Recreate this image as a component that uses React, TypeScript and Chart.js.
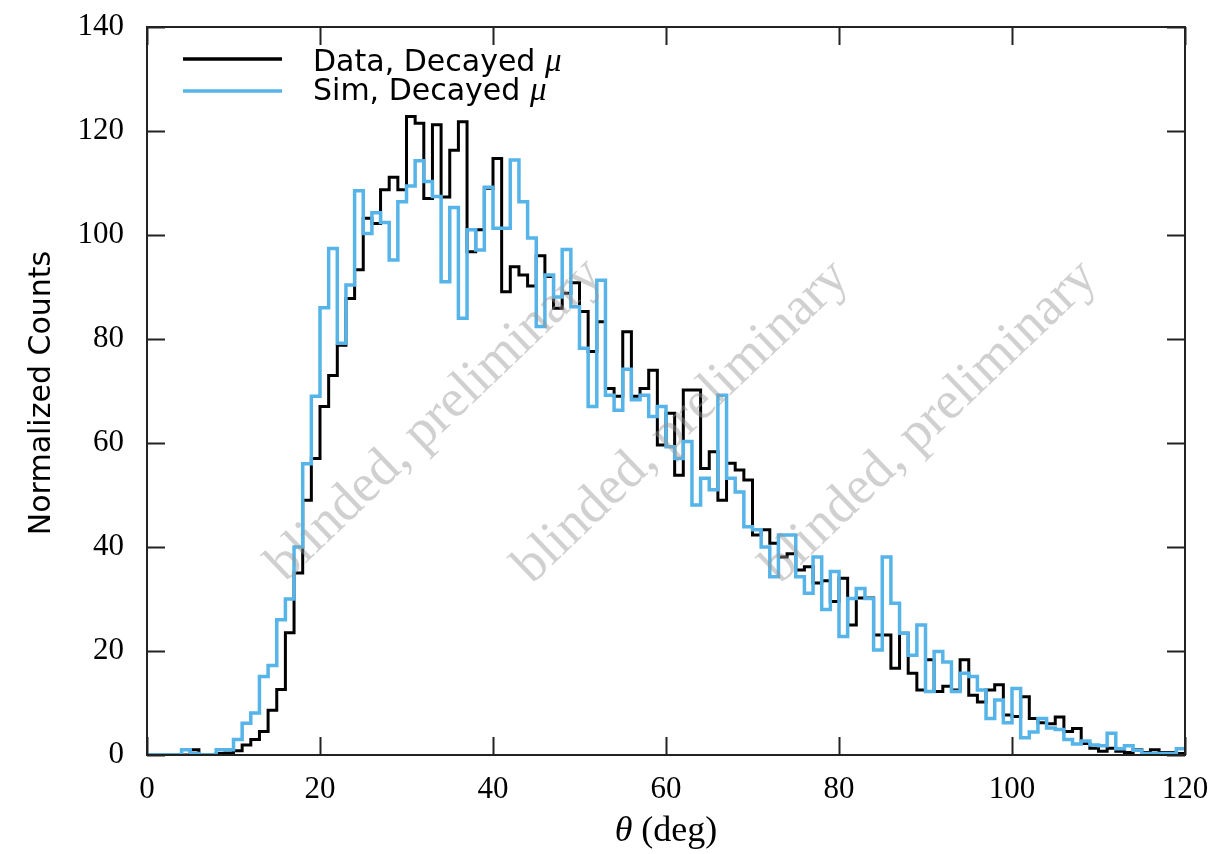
import React, { useEffect, useRef } from "react";
import { Chart, registerables } from "chart.js";

Chart.register(...registerables);

// Histogram binning: 120 bins of 1 degree starting at 0
const binLow = 0;
const binWidth = 1;

// Normalized counts per bin, data sample
const dataCounts = [
  0, 0, 0, 0, 0, 1.0, 0, 0, 0.3, 0.4,
  0.8, 1.9, 3.0, 4.5, 8.6, 12.6, 23.5, 35, 49, 57,
  67, 73, 78.8, 87.8, 93.3, 103.2, 102.2, 108.7, 111.1, 108.7,
  122.8, 121.5, 107, 121.2, 107.3, 116.3, 121.8, 96.8, 101, 109,
  114.7, 89.1, 93.9, 92.3, 90.2, 96, 92, 85.9, 88.8, 90.8,
  85.3, 77.6, 83.3, 70.5, 69, 81.4, 69, 70.5, 74, 59.6,
  65.7, 53.8, 70.2, 70.2, 55.1, 58.3, 49, 56.1, 54.8, 52.9,
  42.3, 43.3, 40.7, 38.1, 38.7, 35.6, 36.2, 33.1, 33.5, 29.5,
  34, 25, 30.2, 30.2, 23.1, 23.1, 16.7, 23.4, 15.7, 12.5,
  18.3, 12.2, 13.2, 12.5, 18.3, 11.5, 10.2, 12.5, 13.5, 7.7,
  7.4, 11.2, 7, 6.2, 6, 7.3, 4.5, 5.1, 2.2, 1.3,
  0.7, 1.3, 0.7, 0.5, 1, 0.5, 1, 0.5, 0.5, 0.3,
];

// Normalized counts per bin, simulation sample
const simCounts = [
  0, 0, 0, 0, 1.0, 0.3, 0, 0, 1.0, 1.0,
  3.0, 6.1, 8.1, 15.1, 17.2, 26, 30, 40, 56, 69,
  86, 97.4, 79.2, 90.4, 108.5, 100.3, 104.3, 102.4, 95.2, 106.4,
  109.4, 114.3, 110.3, 107.4, 91, 105.3, 84, 101, 97.1, 109.2,
  101.3, 101.3, 114.4, 106.4, 99.4, 82.4, 92.3, 88.1, 97.2, 86.2,
  78.2, 67, 91.3, 69.2, 66.3, 74.2, 68.3, 69.2, 65.1, 67,
  59.3, 57, 60.3, 48.1, 53.2, 51, 69.2, 53.2, 50.6, 43.9,
  43.3, 40, 34.3, 42.3, 42.3, 34.3, 31.1, 38.1, 28, 35.3,
  22.8, 30.1, 32, 30.1, 20.2, 38.1, 29.2, 23.4, 19.2, 25,
  12.2, 19.9, 17.9, 12.2, 15.7, 15.1, 12.5, 7, 10.6, 6.2,
  12.8, 3.3, 4.4, 7, 5.2, 4.9, 3, 2.1, 2.7, 1.9,
  1.8, 4.2, 1.2, 1.8, 0.9, 0.3, 0.3, 0.3, 0.3, 1.2,
];

const xTickValues = [0, 20, 40, 60, 80, 100, 120];
const yTickValues = [0, 20, 40, 60, 80, 100, 120, 140];

const seriesNames = ["Data, Decayed ", "Sim, Decayed "];
const seriesColors = ["#000000", "#56B4E9"];
const xTitle = ["θ", " (deg)"];
const yTitle = "Normalized Counts";
const watermarkText = "blinded, preliminary";
// watermark centres in data coordinates (deg, counts)
const watermarkCenters = [
  [33.3, 64.4],
  [61.8, 64],
  [90.5, 64],
];

function toSteps(counts: number[]) {
  const pts = counts.map((v, i) => ({ x: binLow + i * binWidth, y: v }));
  pts.push({ x: binLow + counts.length * binWidth, y: counts[counts.length - 1] });
  return pts;
}

const SERIF = "'Liberation Serif', 'DejaVu Serif', serif";
const SANS = "'DejaVu Sans', 'Noto Sans', sans-serif";

const decorPlugin = {
  id: "decor",
  afterDatasetsDraw(chart: any) {
    const { ctx } = chart;
    const xs = chart.scales.x;
    const ys = chart.scales.y;
    const ca = chart.chartArea;
    ctx.save();
    ctx.beginPath();
    ctx.rect(ca.left, ca.top, ca.right - ca.left, ca.bottom - ca.top);
    ctx.clip();
    ctx.font = `54px ${SERIF}`;
    ctx.fillStyle = "rgba(150,150,150,0.45)";
    ctx.textAlign = "center";
    ctx.textBaseline = "middle";
    for (const [cx, cy] of watermarkCenters) {
      ctx.save();
      ctx.translate(xs.getPixelForValue(cx), ys.getPixelForValue(cy));
      ctx.rotate((-43.7 * Math.PI) / 180);
      ctx.fillText(watermarkText, 0, 0);
      ctx.restore();
    }
    ctx.restore();
  },
  afterDraw(chart: any) {
    const { ctx } = chart;
    const xs = chart.scales.x;
    const ys = chart.scales.y;
    const ca = chart.chartArea;
    ctx.save();
    // frame
    ctx.strokeStyle = "#222";
    ctx.lineWidth = 2;
    ctx.strokeRect(ca.left, ca.top, ca.right - ca.left, ca.bottom - ca.top);
    // inward ticks on all four sides
    const tl = 18;
    ctx.beginPath();
    for (const v of xTickValues) {
      const px = Math.round(xs.getPixelForValue(v)) + 0.5;
      ctx.moveTo(px, ca.bottom);
      ctx.lineTo(px, ca.bottom - tl);
      ctx.moveTo(px, ca.top);
      ctx.lineTo(px, ca.top + tl);
    }
    for (const v of yTickValues) {
      const py = Math.round(ys.getPixelForValue(v)) + 0.5;
      ctx.moveTo(ca.left, py);
      ctx.lineTo(ca.left + tl, py);
      ctx.moveTo(ca.right, py);
      ctx.lineTo(ca.right - tl, py);
    }
    ctx.stroke();

    // legend
    ctx.textBaseline = "alphabetic";
    ctx.textAlign = "left";
    const rows = [
      { y: 59, base: 71 },
      { y: 91, base: 100 },
    ];
    rows.forEach((r, i) => {
      ctx.strokeStyle = seriesColors[i];
      ctx.lineWidth = 3.5;
      ctx.beginPath();
      ctx.moveTo(183, r.y);
      ctx.lineTo(282, r.y);
      ctx.stroke();
      ctx.fillStyle = "#000";
      ctx.font = `30px ${SANS}`;
      ctx.fillText(seriesNames[i], 313, r.base);
      const w = ctx.measureText(seriesNames[i]).width;
      ctx.font = `italic 33px ${SERIF}`;
      ctx.fillText("μ", 313 + w, r.base);
    });

    // x title
    ctx.fillStyle = "#000";
    ctx.font = `italic 36px ${SERIF}`;
    const w1 = ctx.measureText(xTitle[0]).width;
    ctx.font = `36px ${SERIF}`;
    const w2 = ctx.measureText(xTitle[1]).width;
    const cx = (ca.left + ca.right) / 2;
    const sx = cx - (w1 + w2) / 2;
    const by = 841;
    ctx.font = `italic 36px ${SERIF}`;
    ctx.fillText(xTitle[0], sx, by);
    ctx.font = `36px ${SERIF}`;
    ctx.fillText(xTitle[1], sx + w1, by);

    // y title
    ctx.save();
    ctx.translate(50, 393);
    ctx.rotate(-Math.PI / 2);
    ctx.textAlign = "center";
    ctx.font = `30px ${SANS}`;
    ctx.fillText(yTitle, 0, 0);
    ctx.restore();
    ctx.restore();
  },
};

export default function App() {
  const ref = useRef<HTMLCanvasElement | null>(null);
  useEffect(() => {
    if (!ref.current) return;
    const chart = new Chart(ref.current, {
      type: "line",
      data: {
        datasets: [
          {
            label: "Sim",
            data: toSteps(simCounts),
            borderColor: seriesColors[1],
            borderWidth: 3.5,
            stepped: true,
            pointRadius: 0,
            fill: false,
            order: 0,
          },
          {
            label: "Data",
            data: toSteps(dataCounts),
            borderColor: seriesColors[0],
            borderWidth: 3,
            stepped: true,
            pointRadius: 0,
            fill: false,
            order: 1,
          },
        ],
      },
      options: {
        responsive: false,
        animation: false,
        layout: { padding: { top: 27, right: 46, left: 0, bottom: 0 } },
        plugins: { legend: { display: false }, tooltip: { enabled: false } },
        scales: {
          x: {
            type: "linear",
            min: 0,
            max: 120,
            grid: { display: false },
            border: { display: false },
            afterBuildTicks: (s: any) => {
              s.ticks = xTickValues.map((v) => ({ value: v }));
            },
            afterFit: (s: any) => {
              s.height = 99;
              s.paddingLeft = 0;
              s.paddingRight = 0;
            },
            ticks: {
              color: "#000",
              font: { family: SERIF, size: 31 },
              padding: 8,
              maxRotation: 0,
            },
          },
          y: {
            type: "linear",
            min: 0,
            max: 140,
            grid: { display: false },
            border: { display: false },
            afterBuildTicks: (s: any) => {
              s.ticks = yTickValues.map((v) => ({ value: v }));
            },
            afterFit: (s: any) => {
              s.width = 147;
              s.paddingTop = 0;
              s.paddingBottom = 0;
            },
            ticks: {
              color: "#000",
              font: { family: SERIF, size: 31 },
              padding: 15,
            },
          },
        },
      },
      plugins: [decorPlugin],
    });
    return () => chart.destroy();
  }, []);
  return (
    <div style={{ position: "fixed", left: 0, top: 0, width: 1231, height: 854, background: "#fff" }}>
      <canvas ref={ref} width={1231} height={854} style={{ width: 1231, height: 854 }} />
    </div>
  );
}
